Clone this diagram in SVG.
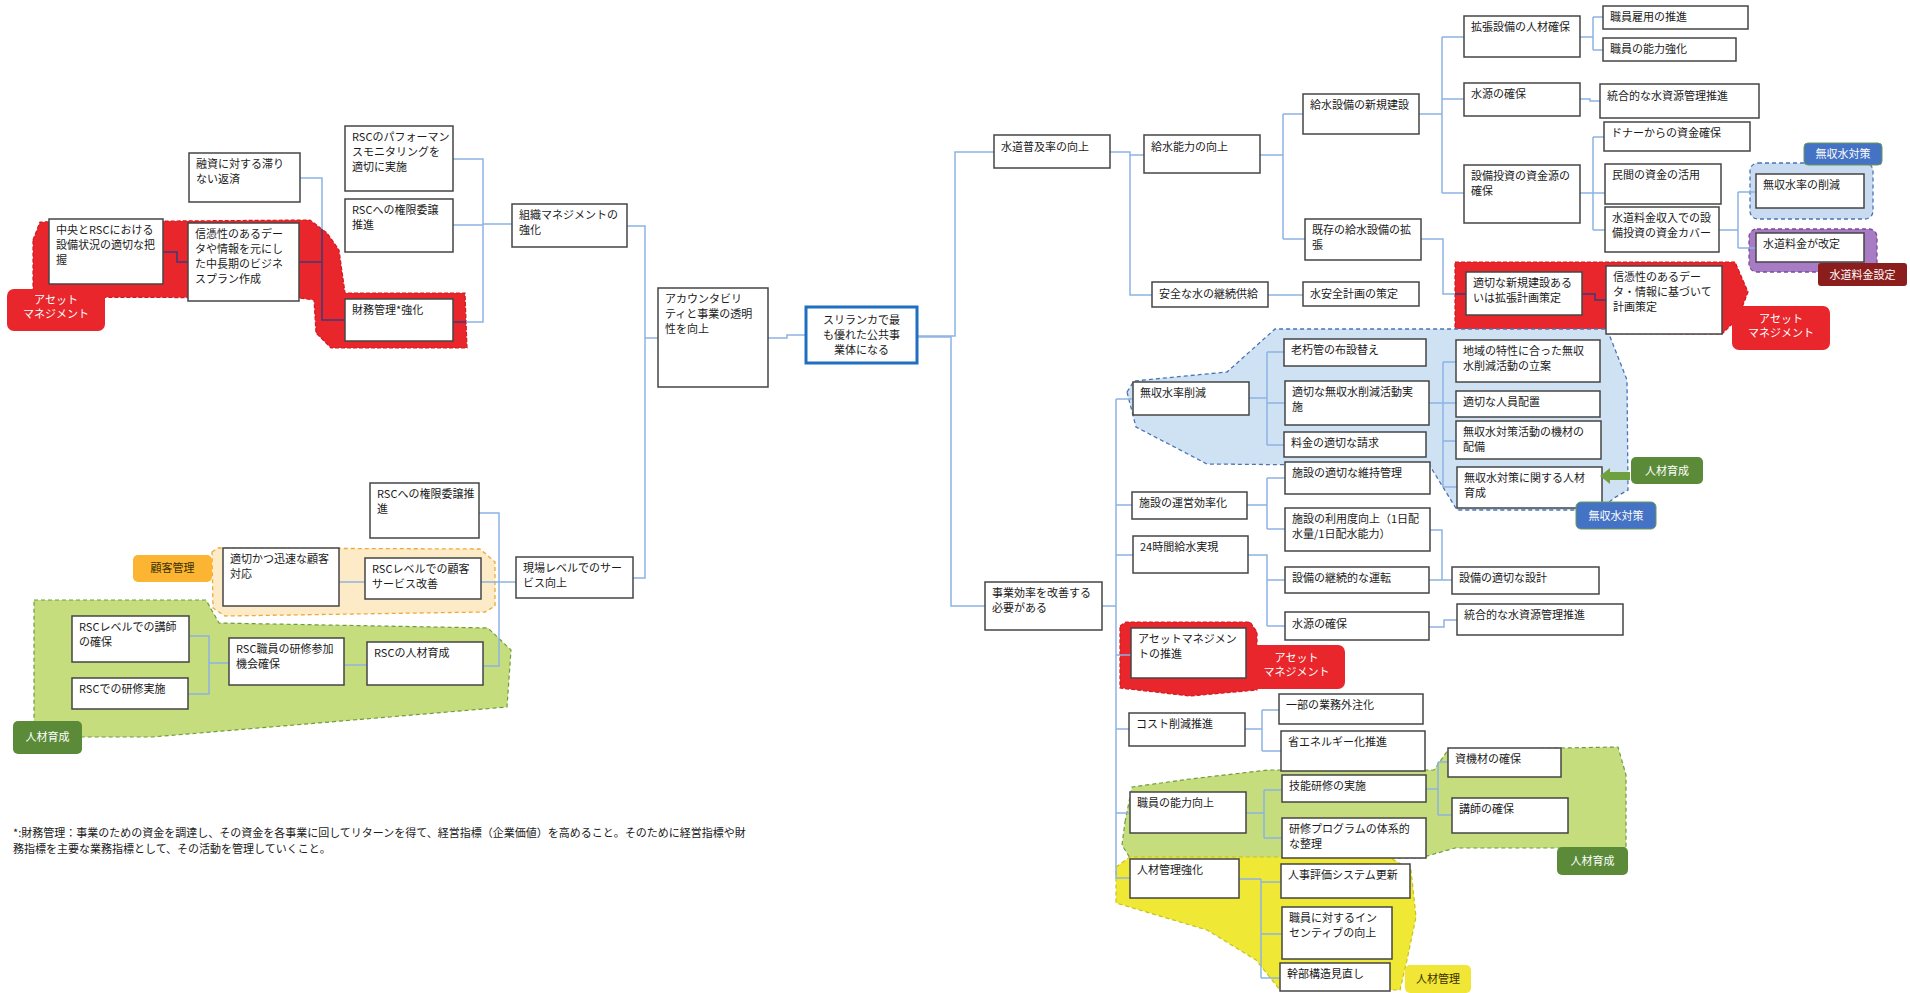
<svg xmlns="http://www.w3.org/2000/svg" width="1910" height="993" viewBox="0 0 1910 993">
<style>
.box{fill:#fff;stroke:#454545;stroke-width:1.5}
.t{font-family:"Noto Sans CJK JP","Noto Sans",sans-serif;font-size:11px;fill:#1a1a1a}
.tc{font-family:"Noto Sans CJK JP","Noto Sans",sans-serif;font-size:11px;text-anchor:middle}
.c{fill:none;stroke:#8DB3E2;stroke-width:1.5}
.cd{fill:none;stroke:#3C3A78;stroke-width:1.5}
.red{fill:#E8262B;stroke:#D01A20;stroke-width:1.2;stroke-dasharray:4 2}
.lred{fill:#E8262B}
.lgreen{fill:#5B8B38}
.lblue{fill:#4472C4;stroke:#6A9A50;stroke-width:1}
.w{fill:#fff}
.dk{fill:#3a3000}
</style>
<rect width="1910" height="993" fill="#fff"/>
<g id="regions">
<polygon class="red" points="33,240 40,222 310,220 327,233 339,250 345,293 465,293 467,348 331,348 316,333 314,300 299,298 33,297"/>
<polygon class="red" points="1455,262 1735,262 1748,292 1738,318 1722,334 1455,333"/>
<polygon class="red" points="1120,626 1126,622 1250,622 1257,632 1257,690 1190,696 1120,688"/>
<polygon points="212,552 218,548 480,549 495,562 495,606 485,612 225,616 213,608" fill="#FDEBC8" stroke="#EFA93A" stroke-width="1.3" stroke-dasharray="4 3"/>
<polygon points="34,600 206,600 219,623 488,628 511,650 507,707 152,737 34,737" fill="#C6DD7E" stroke="#6F9C3D" stroke-width="1.2" stroke-dasharray="4 3"/>
<polygon points="1127,392 1134,381 1227,372 1275,329 1607,329 1627,380 1628,490 1614,498 1600,510 1457,510 1430,466 1207,464 1136,427" fill="#CFE2F3" stroke="#4A74B4" stroke-width="1.3" stroke-dasharray="4 3"/>
<rect x="1750" y="163" width="123" height="56" rx="8" fill="#C9DBF0" stroke="#4A74B4" stroke-width="1.3" stroke-dasharray="4 3"/>
<rect x="1749" y="229" width="128" height="43" rx="8" fill="#A87CC4" stroke="#7A4A9A" stroke-width="1.3" stroke-dasharray="4 3"/>
<polygon points="1125,822 1132,787 1190,779 1268,770 1434,770 1448,750 1618,747 1626,775 1626,848 1455,848 1420,858 1130,858 1122,845" fill="#C6DD7E" stroke="#6F9C3D" stroke-width="1.2" stroke-dasharray="4 3"/>
<polygon points="1116,867 1130,857 1389,857 1411,870 1416,917 1407,960 1400,990 1280,990 1256,960 1207,930 1116,903" fill="#EFE835" stroke="#C8C020" stroke-width="1.2" stroke-dasharray="4 3"/>
</g>
<g id="connectors">
<path class="cd" d="M163,252 H177 V262 H188"/>
<path class="c" d="M300,178 H322 V229"/>
<path class="cd" d="M322,229 V320 H345 M299,262 H322"/>
<path class="c" d="M453,159 H483 V322 H466 M453,225 H483 M483,224 H512"/>
<path class="cd" d="M466,322 H453"/>
<path class="c" d="M627,226 H645 V578 H633 M645,338 H658"/>
<path class="c" d="M768,338 H787 V335 H806"/>
<path class="c" d="M917,336 H955 V152 H994"/>
<path class="c" d="M917,337 H951 V606 H985"/>
<path class="c" d="M516,582 H499 M479,513 H499 V666 H483 M481,582 H499"/>
<path class="c" d="M339,582 H365"/>
<path class="c" d="M189,636 H209 V694 H188 M209,663 H229"/>
<path class="c" d="M344,665 H367"/>
<path class="c" d="M1110,152 H1130 V295 H1152 M1130,155 H1144"/>
<path class="c" d="M1260,155 H1283 M1283,114 V239 M1283,114 H1303 M1283,239 H1305"/>
<path class="c" d="M1268,295 H1303"/>
<path class="c" d="M1419,114 H1442 M1442,37 V193 M1442,37 H1464 M1442,99 H1464 M1442,193 H1464"/>
<path class="c" d="M1421,239 H1443 V294 H1455"/>
<path class="cd" d="M1455,294 H1466 M1582,294 H1595 V300 H1606"/>
<path class="c" d="M1580,37 H1593 M1593,17 V50 M1593,17 H1603 M1593,50 H1603"/>
<path class="c" d="M1580,99 H1590 V101 H1600"/>
<path class="c" d="M1580,193 H1593 M1593,137 V230 M1593,137 H1604 M1593,193 H1605 M1593,230 H1605"/>
<path class="c" d="M1719,230 H1738 M1738,192 V248 M1738,192 H1756 M1738,248 H1756"/>
<path class="c" d="M1102,606 H1116 M1116,399 V878 M1116,399 H1133 M1116,505 H1132 M1116,555 H1133 M1116,655 H1131 M1116,729 H1129 M1116,813 H1130 M1116,878 H1130"/>
<path class="c" d="M1249,398 H1267 M1267,352 V445 M1267,352 H1284 M1267,403 H1285 M1267,445 H1284"/>
<path class="c" d="M1429,403 H1443 M1443,362 V487 M1443,362 H1456 M1443,403 H1456 M1443,441 H1456 M1443,487 H1457"/>
<path class="c" d="M1247,505 H1267 M1267,478 V529 M1267,478 H1285 M1267,529 H1285"/>
<path class="c" d="M1248,555 H1267 V626 M1267,580 H1285 M1267,626 H1285"/>
<path class="c" d="M1430,530 H1442 V580 M1429,580 H1452"/>
<path class="c" d="M1429,627 H1444 V620 H1457"/>
<path class="c" d="M1245,729 H1262 M1262,710 V751 M1262,710 H1279 M1262,751 H1281"/>
<path class="c" d="M1246,813 H1264 M1264,790 V838 M1264,790 H1282 M1264,838 H1282"/>
<path class="c" d="M1426,789 H1438 M1438,762 V815 M1438,762 H1448 M1438,815 H1452"/>
<path class="c" d="M1239,879 H1261 M1261,879 V978 M1261,882 H1281 M1261,934 H1282 M1261,978 H1280"/>
</g>
<g id="n_yushi"><rect class="box" x="189" y="153" width="111" height="49"/><text class="t" x="196" y="168"><tspan x="196">融資に対する滞り</tspan><tspan x="196" dy="15">ない返済</tspan></text></g>
<g id="n_perf"><rect class="box" x="345" y="126" width="108" height="65"/><text class="t" x="352" y="141"><tspan x="352">RSCのパフォーマン</tspan><tspan x="352" dy="15">スモニタリングを</tspan><tspan x="352" dy="15">適切に実施</tspan></text></g>
<g id="n_kengen1"><rect class="box" x="345" y="199" width="108" height="53"/><text class="t" x="352" y="214"><tspan x="352">RSCへの権限委譲</tspan><tspan x="352" dy="15">推進</tspan></text></g>
<g id="n_soshiki"><rect class="box" x="512" y="204" width="115" height="43"/><text class="t" x="519" y="219"><tspan x="519">組織マネジメントの</tspan><tspan x="519" dy="15">強化</tspan></text></g>
<g id="n_chuo"><rect class="box" x="49" y="219" width="114" height="65"/><text class="t" x="56" y="234"><tspan x="56">中央とRSCにおける</tspan><tspan x="56" dy="15">設備状況の適切な把</tspan><tspan x="56" dy="15">握</tspan></text></g>
<g id="n_shinpyo1"><rect class="box" x="188" y="223" width="111" height="78"/><text class="t" x="195" y="238"><tspan x="195">信憑性のあるデー</tspan><tspan x="195" dy="15">タや情報を元にし</tspan><tspan x="195" dy="15">た中長期のビジネ</tspan><tspan x="195" dy="15">スプラン作成</tspan></text></g>
<g id="n_zaimu"><rect class="box" x="345" y="299" width="108" height="42"/><text class="t" x="352" y="314">財務管理*強化</text></g>
<g id="n_account"><rect class="box" x="658" y="288" width="110" height="99"/><text class="t" x="665" y="303"><tspan x="665">アカウンタビリ</tspan><tspan x="665" dy="15">ティと事業の透明</tspan><tspan x="665" dy="15">性を向上</tspan></text></g>
<g id="n_sri"><rect x="806" y="307" width="111" height="56" fill="#fff" stroke="#1F6FC0" stroke-width="3"/><text class="tc" x="861.5" y="324" font-size="12" fill="#1a1a1a"><tspan x="861.5">スリランカで最</tspan><tspan x="861.5" dy="15">も優れた公共事</tspan><tspan x="861.5" dy="15">業体になる</tspan></text></g>
<g id="n_kengen2"><rect class="box" x="370" y="483" width="109" height="55"/><text class="t" x="377" y="498"><tspan x="377">RSCへの権限委譲推</tspan><tspan x="377" dy="15">進</tspan></text></g>
<g id="n_jinsoku"><rect class="box" x="223" y="548" width="116" height="58"/><text class="t" x="230" y="563"><tspan x="230">適切かつ迅速な顧客</tspan><tspan x="230" dy="15">対応</tspan></text></g>
<g id="n_kokyaku"><rect class="box" x="365" y="558" width="116" height="41"/><text class="t" x="372" y="573"><tspan x="372">RSCレベルでの顧客</tspan><tspan x="372" dy="15">サービス改善</tspan></text></g>
<g id="n_genba"><rect class="box" x="516" y="557" width="117" height="41"/><text class="t" x="523" y="572"><tspan x="523">現場レベルでのサー</tspan><tspan x="523" dy="15">ビス向上</tspan></text></g>
<g id="n_koshi1"><rect class="box" x="72" y="616" width="117" height="46"/><text class="t" x="79" y="631"><tspan x="79">RSCレベルでの講師</tspan><tspan x="79" dy="15">の確保</tspan></text></g>
<g id="n_kenshu"><rect class="box" x="72" y="678" width="116" height="31"/><text class="t" x="79" y="693">RSCでの研修実施</text></g>
<g id="n_sanka"><rect class="box" x="229" y="638" width="115" height="47"/><text class="t" x="236" y="653"><tspan x="236">RSC職員の研修参加</tspan><tspan x="236" dy="15">機会確保</tspan></text></g>
<g id="n_jinzai1"><rect class="box" x="367" y="642" width="116" height="43"/><text class="t" x="374" y="657">RSCの人材育成</text></g>
<g id="n_fukyu"><rect class="box" x="994" y="135" width="116" height="33"/><text class="t" x="1001" y="151">水道普及率の向上</text></g>
<g id="n_kyusui"><rect class="box" x="1144" y="135" width="116" height="38"/><text class="t" x="1151" y="151">給水能力の向上</text></g>
<g id="n_shinki"><rect class="box" x="1303" y="94" width="116" height="40"/><text class="t" x="1310" y="109">給水設備の新規建設</text></g>
<g id="n_kizon"><rect class="box" x="1305" y="219" width="116" height="41"/><text class="t" x="1312" y="234"><tspan x="1312">既存の給水設備の拡</tspan><tspan x="1312" dy="15">張</tspan></text></g>
<g id="n_anzen"><rect class="box" x="1152" y="282" width="116" height="25"/><text class="t" x="1159" y="298">安全な水の継続供給</text></g>
<g id="n_suian"><rect class="box" x="1303" y="282" width="116" height="24"/><text class="t" x="1310" y="298">水安全計画の策定</text></g>
<g id="n_kakucho"><rect class="box" x="1464" y="16" width="116" height="41"/><text class="t" x="1471" y="31">拡張設備の人材確保</text></g>
<g id="n_koyo"><rect class="box" x="1603" y="6" width="145" height="23"/><text class="t" x="1610" y="21">職員雇用の推進</text></g>
<g id="n_noryoku1"><rect class="box" x="1603" y="38" width="133" height="23"/><text class="t" x="1610" y="53">職員の能力強化</text></g>
<g id="n_suigen1"><rect class="box" x="1464" y="83" width="116" height="33"/><text class="t" x="1471" y="98">水源の確保</text></g>
<g id="n_togo1"><rect class="box" x="1600" y="84" width="159" height="34"/><text class="t" x="1607" y="100">統合的な水資源管理推進</text></g>
<g id="n_donor"><rect class="box" x="1604" y="122" width="146" height="29"/><text class="t" x="1611" y="137">ドナーからの資金確保</text></g>
<g id="n_setsubi"><rect class="box" x="1464" y="165" width="116" height="58"/><text class="t" x="1471" y="180"><tspan x="1471">設備投資の資金源の</tspan><tspan x="1471" dy="15">確保</tspan></text></g>
<g id="n_minkan"><rect class="box" x="1605" y="164" width="116" height="40"/><text class="t" x="1612" y="179">民間の資金の活用</text></g>
<g id="n_ryokin"><rect class="box" x="1605" y="207" width="114" height="45"/><text class="t" x="1612" y="222"><tspan x="1612">水道料金収入での設</tspan><tspan x="1612" dy="15">備投資の資金カバー</tspan></text></g>
<g id="n_musyu1"><rect class="box" x="1756" y="174" width="108" height="34"/><text class="t" x="1763" y="189">無収水率の削減</text></g>
<g id="n_kaitei"><rect class="box" x="1756" y="233" width="108" height="29"/><text class="t" x="1763" y="248">水道料金が改定</text></g>
<g id="n_tekisetsu"><rect class="box" x="1466" y="272" width="116" height="43"/><text class="t" x="1473" y="287"><tspan x="1473">適切な新規建設ある</tspan><tspan x="1473" dy="15">いは拡張計画策定</tspan></text></g>
<g id="n_shinpyo2"><rect class="box" x="1606" y="266" width="116" height="68"/><text class="t" x="1613" y="281"><tspan x="1613">信憑性のあるデー</tspan><tspan x="1613" dy="15">タ・情報に基づいて</tspan><tspan x="1613" dy="15">計画策定</tspan></text></g>
<g id="n_jigyo"><rect class="box" x="985" y="582" width="117" height="48"/><text class="t" x="992" y="597"><tspan x="992">事業効率を改善する</tspan><tspan x="992" dy="15">必要がある</tspan></text></g>
<g id="n_musyu2"><rect class="box" x="1133" y="382" width="116" height="33"/><text class="t" x="1140" y="397">無収水率削減</text></g>
<g id="n_rokyu"><rect class="box" x="1284" y="339" width="142" height="27"/><text class="t" x="1291" y="354">老朽管の布設替え</text></g>
<g id="n_katsudo"><rect class="box" x="1285" y="381" width="144" height="44"/><text class="t" x="1292" y="396"><tspan x="1292">適切な無収水削減活動実</tspan><tspan x="1292" dy="15">施</tspan></text></g>
<g id="n_seikyu"><rect class="box" x="1284" y="432" width="142" height="25"/><text class="t" x="1291" y="447">料金の適切な請求</text></g>
<g id="n_chiiki"><rect class="box" x="1456" y="340" width="144" height="42"/><text class="t" x="1463" y="355"><tspan x="1463">地域の特性に合った無収</tspan><tspan x="1463" dy="15">水削減活動の立案</tspan></text></g>
<g id="n_jinin"><rect class="box" x="1456" y="391" width="144" height="26"/><text class="t" x="1463" y="406">適切な人員配置</text></g>
<g id="n_kizai"><rect class="box" x="1456" y="421" width="145" height="38"/><text class="t" x="1463" y="436"><tspan x="1463">無収水対策活動の機材の</tspan><tspan x="1463" dy="15">配備</tspan></text></g>
<g id="n_ikusei"><rect class="box" x="1457" y="467" width="145" height="41"/><text class="t" x="1464" y="482"><tspan x="1464">無収水対策に関する人材</tspan><tspan x="1464" dy="15">育成</tspan></text></g>
<g id="n_iji"><rect class="box" x="1285" y="462" width="145" height="32"/><text class="t" x="1292" y="477">施設の適切な維持管理</text></g>
<g id="n_unei"><rect class="box" x="1132" y="492" width="115" height="27"/><text class="t" x="1139" y="507">施設の運営効率化</text></g>
<g id="n_riyo"><rect class="box" x="1285" y="508" width="145" height="43"/><text class="t" x="1292" y="523"><tspan x="1292">施設の利用度向上（1日配</tspan><tspan x="1292" dy="15">水量/1日配水能力）</tspan></text></g>
<g id="n_24"><rect class="box" x="1133" y="536" width="115" height="37"/><text class="t" x="1140" y="551">24時間給水実現</text></g>
<g id="n_keizoku"><rect class="box" x="1285" y="567" width="144" height="26"/><text class="t" x="1292" y="582">設備の継続的な運転</text></g>
<g id="n_sekkei"><rect class="box" x="1452" y="567" width="147" height="27"/><text class="t" x="1459" y="582">設備の適切な設計</text></g>
<g id="n_suigen2"><rect class="box" x="1285" y="612" width="144" height="28"/><text class="t" x="1292" y="628">水源の確保</text></g>
<g id="n_togo2"><rect class="box" x="1457" y="604" width="166" height="31"/><text class="t" x="1464" y="619">統合的な水資源管理推進</text></g>
<g id="n_asset"><rect class="box" x="1131" y="628" width="115" height="50"/><text class="t" x="1138" y="643"><tspan x="1138">アセットマネジメン</tspan><tspan x="1138" dy="15">トの推進</tspan></text></g>
<g id="n_gaichu"><rect class="box" x="1279" y="694" width="144" height="30"/><text class="t" x="1286" y="709">一部の業務外注化</text></g>
<g id="n_cost"><rect class="box" x="1129" y="713" width="116" height="33"/><text class="t" x="1136" y="728">コスト削減推進</text></g>
<g id="n_shoene"><rect class="box" x="1281" y="731" width="144" height="40"/><text class="t" x="1288" y="746">省エネルギー化推進</text></g>
<g id="n_shikizai"><rect class="box" x="1448" y="748" width="113" height="29"/><text class="t" x="1455" y="763">資機材の確保</text></g>
<g id="n_ginou"><rect class="box" x="1282" y="775" width="144" height="27"/><text class="t" x="1289" y="790">技能研修の実施</text></g>
<g id="n_shokuin"><rect class="box" x="1130" y="792" width="116" height="41"/><text class="t" x="1137" y="807">職員の能力向上</text></g>
<g id="n_koshi2"><rect class="box" x="1452" y="798" width="116" height="35"/><text class="t" x="1459" y="813">講師の確保</text></g>
<g id="n_program"><rect class="box" x="1282" y="818" width="144" height="40"/><text class="t" x="1289" y="833"><tspan x="1289">研修プログラムの体系的</tspan><tspan x="1289" dy="15">な整理</tspan></text></g>
<g id="n_jinzaikanri"><rect class="box" x="1130" y="859" width="109" height="39"/><text class="t" x="1137" y="874">人材管理強化</text></g>
<g id="n_jinji"><rect class="box" x="1281" y="864" width="129" height="34"/><text class="t" x="1288" y="879">人事評価システム更新</text></g>
<g id="n_incentive"><rect class="box" x="1282" y="907" width="110" height="52"/><text class="t" x="1289" y="922"><tspan x="1289">職員に対するイン</tspan><tspan x="1289" dy="15">センティブの向上</tspan></text></g>
<g id="n_kanbu"><rect class="box" x="1280" y="963" width="110" height="28"/><text class="t" x="1287" y="978">幹部構造見直し</text></g>
<g id="labels">
<g id="l_asset1"><rect class="lred" x="7" y="289" width="98" height="42" rx="7"/><text class="tc w" x="56" y="304"><tspan x="56">アセット</tspan><tspan x="56" dy="14">マネジメント</tspan></text></g>
<g id="l_kokyaku"><rect x="133" y="555" width="79" height="27" rx="5" fill="#FBB532"/><text class="tc dk" x="172.5" y="572">顧客管理</text></g>
<g id="l_jinzai1"><rect class="lgreen" x="13" y="721" width="69" height="33" rx="5"/><text class="tc w" x="47.5" y="741">人材育成</text></g>
<g id="l_musyu1"><rect class="lblue" x="1804" y="143" width="78" height="22" rx="4"/><text class="tc w" x="1843" y="158">無収水対策</text></g>
<g id="l_ryokin"><rect x="1818" y="263" width="89" height="23" rx="3" fill="#8B1D1D"/><text class="tc w" x="1862.5" y="279">水道料金設定</text></g>
<g id="l_asset2"><rect class="lred" x="1732" y="306" width="98" height="44" rx="7"/><text class="tc w" x="1781" y="323"><tspan x="1781">アセット</tspan><tspan x="1781" dy="14">マネジメント</tspan></text></g>
<g id="l_jinzai2"><rect class="lgreen" x="1631" y="457" width="72" height="27" rx="5"/><text class="tc w" x="1667" y="475">人材育成</text></g>
<polygon id="arrow" points="1600,476 1610,468 1610,472 1630,472 1630,480 1610,480 1610,484" fill="#6FA040"/>
<g id="l_musyu2"><rect class="lblue" x="1576" y="502" width="80" height="27" rx="5"/><text class="tc w" x="1616" y="520">無収水対策</text></g>
<g id="l_asset3"><rect class="lred" x="1248" y="645" width="97" height="44" rx="7"/><text class="tc w" x="1296.5" y="662"><tspan x="1296.5">アセット</tspan><tspan x="1296.5" dy="14">マネジメント</tspan></text></g>
<g id="l_jinzai3"><rect class="lgreen" x="1557" y="847" width="71" height="28" rx="5"/><text class="tc w" x="1592.5" y="865">人材育成</text></g>
<g id="l_jinzaikanri"><rect x="1405" y="965" width="66" height="28" rx="5" fill="#F1E635"/><text class="tc dk" x="1438" y="983">人材管理</text></g>
</g>
<g id="footnote"><text class="t" x="13" y="837">*:財務管理：事業のための資金を調達し、その資金を各事業に回してリターンを得て、経営指標（企業価値）を高めること。そのために経営指標や財</text><text class="t" x="13" y="853">務指標を主要な業務指標として、その活動を管理していくこと。</text></g>
</svg>
